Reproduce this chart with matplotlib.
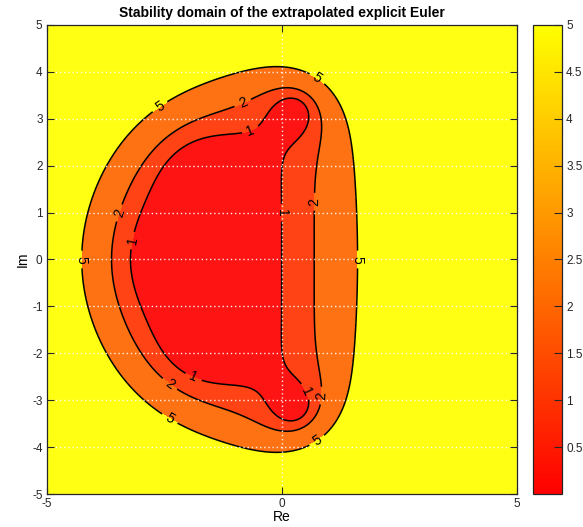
import numpy as np
import matplotlib
matplotlib.use("Agg")
import matplotlib.pyplot as plt
from matplotlib import cm, colors

# stability function of the extrapolated explicit Euler (T55, harmonic steps):
# R(z) = sum c_k z^k
coeffs = [1.0, 1.0, 0.5, 1 / 6, 1 / 24, 1 / 120]
levels = [1, 2, 5]
re_lim = [-5, 5]
im_lim = [-5, 5]
xticks = [-5, 0, 5]
yticks = [-5, -4, -3, -2, -1, 0, 1, 2, 3, 4, 5]
cbar_ticks = [0.5, 1, 1.5, 2, 2.5, 3, 3.5, 4, 4.5, 5]
cmax = 5

# where the inline labels sit (layout only)
label_pos = [(-4.23, 0.0), (-2.59, 3.26), (0.77, 3.88), (1.6, 0.0), (-2.42, -3.46), (0.79, -3.92),
             (-3.48, 1.0), (-0.82, 3.32), (0.71, 1.23), (-2.4, -2.68), (0.8, -2.9),
             (-3.16, 0.4), (-0.67, 2.77), (0.0, 1.0), (-1.9, -2.57), (0.56, -2.79)]

plt.rcParams['font.family'] = ['Liberation Sans', 'DejaVu Sans']
plt.rcParams['axes.unicode_minus'] = False

x = np.linspace(re_lim[0], re_lim[1], 501)
y = np.linspace(im_lim[0], im_lim[1], 501)
X, Y = np.meshgrid(x, y)
Zc = X + 1j * Y
R = np.polyval(coeffs[::-1], Zc)
A = np.abs(R)

cmap = plt.get_cmap('autumn')
norm = colors.Normalize(0, cmax)


def light(c, f=0.08):
    c = np.array(c[:3])
    return tuple(c + (1 - c) * f)


fill_levels = [0] + levels + [A.max() + 1]
fill_cols = [light(cmap(norm(v))) for v in [0] + levels]

fig = plt.figure(figsize=(5.83, 5.27), dpi=100)
ax = fig.add_axes([0.0801, 0.0626, 0.806, 0.890])
cax = fig.add_axes([0.9148, 0.0626, 0.0492, 0.890])

ax.contourf(X, Y, A, levels=fill_levels, colors=fill_cols)
cs = ax.contour(X, Y, A, levels=levels, colors='k', linewidths=1.1)
ax.clabel(cs, fmt='%d', fontsize=10, inline=True, manual=label_pos)

ax.set_xlim(re_lim)
ax.set_ylim(im_lim)
ax.set_xticks(xticks)
ax.set_yticks(yticks)
ax.tick_params(direction='in', top=True, right=True, length=5, width=0.8,
               labelsize=8.5, colors='#262626', pad=3)
ax.grid(True, color='white', linestyle=(0, (1, 2)), linewidth=1.0, alpha=0.9)
ax.set_axisbelow(False)
for s in ax.spines.values():
    s.set_color('#262626')
    s.set_linewidth(0.9)
    s.set_zorder(4)

ax.set_title('Stability domain of the extrapolated explicit Euler', fontsize=10,
             fontweight='bold', pad=6)
ax.set_xlabel('Re', fontsize=10, labelpad=0)
ax.set_ylabel('Im', fontsize=10, labelpad=2)

sm = cm.ScalarMappable(norm=norm, cmap=cmap)
cb = fig.colorbar(sm, cax=cax)
cb.set_ticks(cbar_ticks)
cb.set_ticklabels(['0.5', '1', '1.5', '2', '2.5', '3', '3.5', '4', '4.5', '5'])
cax.tick_params(direction='in', length=6, width=0.8, labelsize=8.5, colors='#262626', pad=3)
cb.outline.set_edgecolor('#262626')
cb.outline.set_linewidth(0.9)

fig.savefig('out.png', dpi=100)
